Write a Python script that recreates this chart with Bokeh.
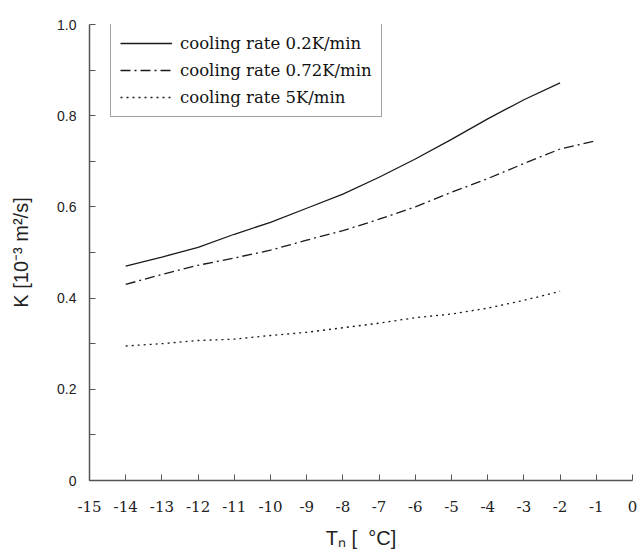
from bokeh.plotting import figure
from bokeh.models import Range1d, FixedTicker, Legend, LegendItem
from bokeh.embed import file_html
from bokeh.resources import INLINE

# ---- data ----
x_slow = [-14, -13, -12, -11, -10, -9, -8, -7, -6, -5, -4, -3, -2]
k_slow = [0.470, 0.490, 0.511, 0.540, 0.566, 0.597, 0.628, 0.665, 0.705, 0.748, 0.793, 0.835, 0.872]

x_mid = [-14, -13, -12, -11, -10, -9, -8, -7, -6, -5, -4, -3, -2, -1]
k_mid = [0.430, 0.452, 0.472, 0.488, 0.505, 0.527, 0.548, 0.573, 0.600, 0.632, 0.662, 0.695, 0.727, 0.745]

x_fast = [-14, -13, -12, -11, -10, -9, -8, -7, -6, -5, -4, -3, -2]
k_fast = [0.295, 0.300, 0.307, 0.310, 0.318, 0.325, 0.335, 0.345, 0.357, 0.365, 0.378, 0.395, 0.415]

series_labels = ["cooling rate 0.2K/min", "cooling rate 0.72K/min", "cooling rate 5K/min"]

x_ticks = [-15, -14, -13, -12, -11, -10, -9, -8, -7, -6, -5, -4, -3, -2, -1, 0]
x_tick_labels = ["-15", "-14", "-13", "-12", "-11", "-10", "-9", "-8", "-7", "-6",
                 "-5", "-4", "-3", "-2", "-1", "0"]
y_ticks = [0.0, 0.2, 0.4, 0.6, 0.8, 1.0]
y_tick_labels = ["0", "0.2", "0.4", "0.6", "0.8", "1.0"]
y_minor = [0.1, 0.3, 0.5, 0.7, 0.9]

x_title = "T\u2099 [\u00a0\u00a0\u00b0C]"
y_title = "K [10\u207b\u00b3 m\u00b2/s]"

# ---- figure ----
p = figure(width=637, height=556,
           x_range=Range1d(-15, 0), y_range=Range1d(0, 1.0),
           output_backend="svg", toolbar_location=None,
           min_border_left=89, min_border_right=5,
           min_border_top=24, min_border_bottom=76)
p.grid.visible = False
p.outline_line_color = None
p.background_fill_color = "white"
p.border_fill_color = "white"

line_col = "#1a1a1a"
r1 = p.line(x_slow, k_slow, line_color=line_col, line_width=1.3)
r2 = p.line(x_mid, k_mid, line_color=line_col, line_width=1.3, line_dash="10 4 2 4")
r3 = p.line(x_fast, k_fast, line_color=line_col, line_width=1.3, line_dash="2 4")

axis_col = "#555555"
for ax in (p.xaxis[0], p.yaxis[0]):
    ax.axis_line_color = axis_col
    ax.axis_line_width = 1.5
    ax.major_tick_line_color = axis_col
    ax.minor_tick_line_color = axis_col
    ax.major_tick_in = 6
    ax.major_tick_out = 0
    ax.minor_tick_in = 6
    ax.minor_tick_out = 0
    ax.major_label_text_color = "#222222"
    ax.axis_label_text_font = "Liberation Sans"
    ax.axis_label_text_font_size = "20px"
    ax.axis_label_text_font_style = "normal"
    ax.axis_label_text_color = "#222222"

p.xaxis[0].ticker = FixedTicker(ticks=x_ticks)
p.xaxis[0].major_label_overrides = dict(zip(x_ticks, x_tick_labels))
p.xaxis[0].major_label_text_font = "DejaVu Serif"
p.xaxis[0].major_label_text_font_size = "15px"
p.xaxis[0].major_label_standoff = 20
p.xaxis[0].axis_label = x_title
p.xaxis[0].axis_label_standoff = 12

p.yaxis[0].ticker = FixedTicker(ticks=y_ticks, minor_ticks=y_minor)
p.yaxis[0].major_label_overrides = dict(zip(y_ticks, y_tick_labels))
p.yaxis[0].major_label_text_font = "Liberation Sans"
p.yaxis[0].major_label_text_font_size = "14px"
p.yaxis[0].major_label_standoff = 13
p.yaxis[0].axis_label = y_title
p.yaxis[0].axis_label_standoff = 22

# ---- legend ----
legend = Legend(items=[LegendItem(label=series_labels[0], renderers=[r1]),
                       LegendItem(label=series_labels[1], renderers=[r2]),
                       LegendItem(label=series_labels[2], renderers=[r3])],
                location=(21, 363),
                border_line_color="#444444", border_line_width=1,
                padding=9, spacing=7,
                glyph_width=52, glyph_height=20, label_height=20,
                label_standoff=8,
                label_text_font="DejaVu Serif", label_text_font_size="16.5px",
                label_text_color="#111111",
                background_fill_color="white", background_fill_alpha=1)
p.add_layout(legend)

open("out.html", "w").write(file_html(p, INLINE))
